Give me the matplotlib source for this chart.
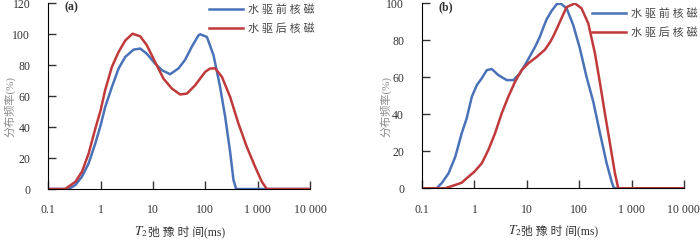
import numpy as np
import matplotlib
matplotlib.use("Agg")
import matplotlib.pyplot as plt
from matplotlib.offsetbox import TextArea, HPacker, AnchoredOffsetbox

plt.rcParams['font.family'] = ['Liberation Serif', 'Noto Sans CJK SC', 'DejaVu Sans']
plt.rcParams['mathtext.fontset'] = 'stix'

# (a) T2 spectra, before / after water flooding
a_before_x = [0.1, 0.245, 0.33, 0.44, 0.59, 0.79, 1.0, 1.22, 1.64, 2.2, 2.95, 4.25, 5.7, 7.6,
              11, 14.8, 21.2, 30.7, 41, 55, 74, 80, 107, 143, 191, 239, 297, 344, 387, 10000]
a_before_y = [0, 0, 2.6, 8, 16.6, 29.5, 41.3, 53, 66, 77.9, 85.4, 90.1, 90.8, 87.5,
              81, 76.8, 74.2, 78, 83.5, 92, 99.4, 100, 98.3, 86.5, 66, 46.6, 24, 5.8, 0, 0]
a_after_x = [0.1, 0.21, 0.33, 0.44, 0.59, 0.79, 1.0, 1.22, 1.64, 2.2, 2.95, 4.07, 5.7, 7.6,
             11, 15.8, 22.8, 33, 44.4, 63.5, 99, 123, 154, 207, 297, 427, 617, 890, 1197,
             1490, 10000]
a_after_y = [0, 0, 4.7, 11.2, 23, 39, 51, 64, 79, 88.6, 96, 100.4, 98.7, 93,
             82, 71.4, 65, 61.1, 61.7, 67, 75.7, 77.9, 78, 72.5, 59.5, 42.4, 27.3, 14.4, 4.7,
             0, 0]

# (b)
b_before_x = [0.1, 0.19, 0.24, 0.32, 0.43, 0.57, 0.71, 0.89, 1.11, 1.38, 1.72, 2.14, 2.86,
              4.14, 5.55, 7.4, 10, 14.4, 17.8, 20.7, 24, 29.8, 37, 44, 57.6, 77, 103, 138,
              186, 250, 335, 417, 461, 10000]
b_before_y = [0, 0, 3, 8.1, 17, 29.7, 37.8, 49.5, 55.8, 59.5, 63.9, 64.5, 61.2,
              58.5, 58.5, 62.2, 68.4, 76.5, 82, 87, 91.5, 96, 99.5, 100, 97.3, 88.3, 75.7, 60.3,
              46.8, 29.7, 13.5, 3.6, 0, 0]
b_after_x = [0.1, 0.275, 0.43, 0.57, 0.77, 1.0, 1.38, 1.84, 2.47, 3.31, 4.43, 5.95, 7.95,
             10.7, 15.5, 22.2, 27.7, 31.8, 39.8, 46, 57.6, 83, 111, 149, 200, 250, 310, 387,
             482, 557, 10000]
b_after_y = [0, 0, 1.8, 3, 6.3, 9, 13.5, 20.7, 29.7, 40.5, 49.5, 57.6, 63.9,
             67.6, 71.1, 75, 79, 82, 88, 92, 98, 100, 97.3, 89.2, 73, 56.8, 40.5, 24.3,
             8.1, 0, 0]

labels = ['水 驱 前 核 磁', '水 驱 后 核 磁']
xticks = [0.1, 1, 10, 100, 1000, 10000]
xticklabels = ['0.1', '1', '10', '100', '1 000', '10 000']

blue = '#4a72b8'
red = '#c0393b'

fig = plt.figure(figsize=(7, 2.42), dpi=100)
ax1 = fig.add_axes([0.069, 0.219, 0.374, 0.767])
ax2 = fig.add_axes([0.603, 0.222, 0.374, 0.764])

panels = [
    (ax1, a_before_x, a_before_y, a_after_x, a_after_y, 120, '(a)',
     (1.019, 0.995), (-0.126, 0.446)),
    (ax2, b_before_x, b_before_y, b_after_x, b_after_y, 100, '(b)',
     (1.053, 0.975), (-0.115, 0.44)),
]

for ax, bx, by, rx, ry, ymax, tag, anchor, ylab_pos in panels:
    ax.plot(bx, by, color=blue, lw=1.8, label=labels[0])
    ax.plot(rx, ry, color=red, lw=1.8, label=labels[1])
    ax.set_xscale('log')
    ax.set_xlim(0.1, 10000)
    ax.set_ylim(0, ymax)
    ax.set_xticks(xticks)
    ax.set_xticklabels(xticklabels)
    ax.minorticks_off()
    ax.set_yticks(np.arange(0, ymax + 1, 20))
    ax.tick_params(direction='in', length=5.5, width=1, labelsize=8.5, colors='#333333')
    ax.tick_params(axis='x', pad=11)
    ax.tick_params(axis='y', pad=13)
    for s in ['top', 'right']:
        ax.spines[s].set_visible(False)
    ax.text(0.063, 0.978, tag, transform=ax.transAxes, fontsize=8.5, color='#333333',
            va='center', fontweight='bold')
    ax.set_ylabel('分布频率(%)', fontsize=8, color='#8a8a8a')
    ax.yaxis.set_label_coords(*ylab_pos)
    # x label: italic T with subscript, then the Chinese text
    t1 = TextArea(r'$T_2$', textprops=dict(fontsize=9.5, color='#333333'))
    t2 = TextArea('弛 豫 时 间(ms)', textprops=dict(fontsize=8.5, color='#333333'))
    box = HPacker(children=[t1, t2], align='baseline', pad=0, sep=0)
    ab = AnchoredOffsetbox(loc='center', child=box, frameon=False, pad=0, borderpad=0,
                           bbox_to_anchor=(0.5, -0.23), bbox_transform=ax.transAxes)
    ax.add_artist(ab)
    ax.legend(loc='upper right', bbox_to_anchor=anchor, frameon=False, fontsize=8,
              handlelength=3.1, handletextpad=0.45, labelspacing=0.75,
              borderpad=0, borderaxespad=0, labelcolor='#444444')

fig.savefig('out.png', dpi=100)
